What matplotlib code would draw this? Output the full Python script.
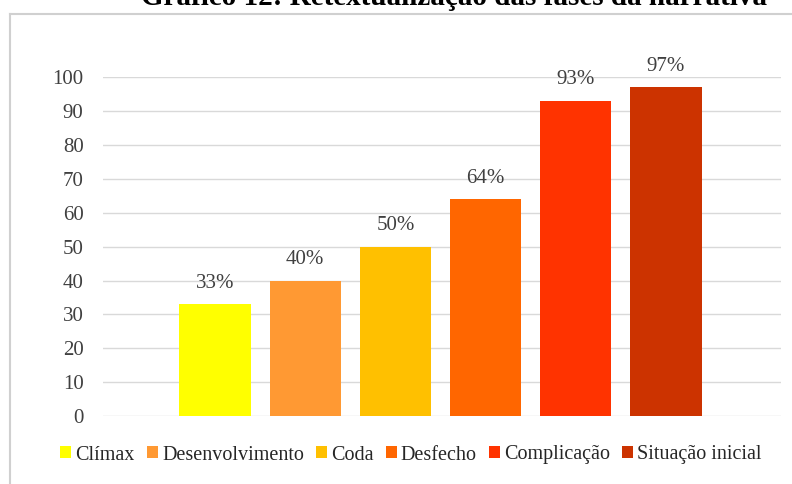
import numpy as np
import matplotlib
matplotlib.use("Agg")
import matplotlib.pyplot as plt
from matplotlib.lines import Line2D

# dados do gráfico
fases = ['Clímax', 'Desenvolvimento', 'Coda', 'Desfecho', 'Complicação', 'Situação inicial']
valores = [33, 40, 50, 64, 93, 97]
cores = ['#FFFF00', '#FF9933', '#FFC000', '#FF6600', '#FF3300', '#CC3300']
yticks = list(range(0, 101, 10))

plt.rcParams['font.family'] = ['Liberation Serif', 'DejaVu Serif']

fig = plt.figure(figsize=(7.92, 4.84), dpi=100)
W, H = 792, 484

# moldura cinza do gráfico (cortada à direita e embaixo)
fig.add_artist(Line2D([9.5 / W, 1.0], [1 - 13.5 / H, 1 - 13.5 / H], color='#d0d0d0', lw=1.5))
fig.add_artist(Line2D([9.5 / W, 9.5 / W], [1 - 13.5 / H, 0.0], color='#d0d0d0', lw=1.5))

# título (cortado no topo, como na imagem original)
fig.text(454 / W, 1 - 5 / H, 'Gráfico 12: Retextualização das fases da narrativa',
         ha='center', va='baseline', fontsize=21, fontweight='bold', color='black')

ax = fig.add_axes([103 / W, 1 - 416 / H, (781 - 103) / W, (416 - 77.3) / H])
x = np.arange(len(fases))
bars = ax.bar(x, valores, width=0.79, color=cores, zorder=3)

for xi, v in zip(x, valores):
    ax.annotate(f'{v}%', (xi, v), xytext=(0, 12), textcoords='offset points',
                ha='center', va='baseline', fontsize=15, color='#404040',
                annotation_clip=False)

ax.set_xlim(-1.242, 6.275)
ax.set_ylim(0, 100)
ax.set_yticks(yticks)
ax.set_xticks([])
ax.tick_params(axis='y', length=0, pad=14, labelsize=15, labelcolor='#404040')
ax.grid(axis='y', color='#d9d9d9', lw=1, zorder=0)
for s in ax.spines.values():
    s.set_visible(False)

fig.legend(bars, fases, loc='center', bbox_to_anchor=(411 / W, 1 - 455 / H), ncol=6,
           frameon=False, fontsize=14.5, handlelength=0.55, handleheight=0.55,
           handletextpad=0.2, columnspacing=0.6, borderaxespad=0,
           labelcolor='#262626')

fig.savefig('out.png', dpi=100)
